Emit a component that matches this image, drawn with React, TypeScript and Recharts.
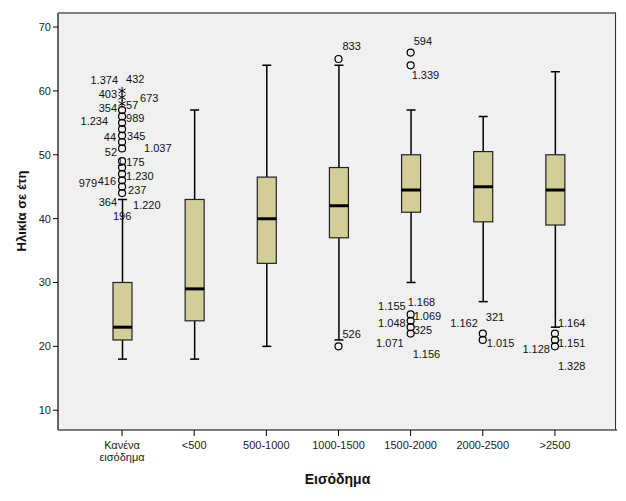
import React from 'react'
import { ComposedChart, Bar, Scatter, XAxis, YAxis, CartesianGrid } from 'recharts'

const categories = ['Κανένα εισόδημα', '<500', '500-1000', '1000-1500', '1500-2000', '2000-2500', '>2500']
const whiskerLow = [18, 18, 20, 21, 30, 27, 23]
const q1 = [21, 24, 33, 37, 41, 39.5, 39]
const median = [23, 29, 40, 42, 44.5, 45, 44.5]
const q3 = [30, 43, 46.5, 48, 50, 50.5, 50]
const whiskerHigh = [43, 57, 64, 64, 57, 56, 63]

const yTicks = [10, 20, 30, 40, 50, 60, 70]

// outliers as [category index, age]
const circleOutliers = [
  [0, 44], [0, 45], [0, 46], [0, 47], [0, 48], [0, 49], [0, 51], [0, 52], [0, 53], [0, 54], [0, 55], [0, 56], [0, 57],
  [3, 65], [3, 20],
  [4, 66], [4, 64], [4, 25], [4, 24], [4, 23], [4, 22],
  [5, 22], [5, 21],
  [6, 22], [6, 21], [6, 20],
]
const extremeOutliers = [[0, 58], [0, 59], [0, 60]]

// case numbers next to the outliers: [category index, age, case]
const caseLabels: [number, number, string][] = [
  [0, 60, '1.374'], [0, 60, '432'], [0, 59, '403'], [0, 58, '673'], [0, 58, '57'],
  [0, 57, '354'], [0, 56, '989'], [0, 55, '1.234'], [0, 53, '44'], [0, 53, '345'],
  [0, 51, '52'], [0, 51, '1.037'], [0, 49, '1.175'], [0, 47, '1.230'], [0, 46, '416'],
  [0, 46, '979'], [0, 44, '237'], [0, 44, '364'], [0, 44, '1.220'], [0, 44, '196'],
  [3, 65, '833'], [3, 20, '526'],
  [4, 66, '594'], [4, 64, '1.339'], [4, 25, '1.155'], [4, 25, '1.168'], [4, 24, '1.069'],
  [4, 23, '1.048'], [4, 22, '325'], [4, 22, '1.071'], [4, 22, '1.156'],
  [5, 22, '1.162'], [5, 22, '321'], [5, 21, '1.015'],
  [6, 22, '1.164'], [6, 21, '1.151'], [6, 20, '1.128'], [6, 20, '1.328'],
]
// where each case label sits relative to its point: [anchor, dx, dy]
const labelOffsets: [string, number, number][] = [
  ['end', -4, -11], ['start', 4, -12], ['end', -5, -3], ['start', 18, -6], ['start', 4, 1],
  ['end', -5, -2], ['start', 4, 2], ['end', -14, -2], ['end', -6, 1], ['start', 5, 0],
  ['end', -5, 4], ['start', 22, 0], ['start', -5, 1], ['start', 4, 2], ['end', -6, 1],
  ['end', -25, 3], ['start', 6, -3], ['end', -5, 9], ['start', 11, 12], ['middle', 0, 23],
  ['start', 4, -13], ['start', 4, -12],
  ['start', 3, -12], ['start', 1, 10], ['end', -5, -8], ['start', -3, -12], ['start', 3, -5],
  ['end', -5, -4], ['start', 3, -4], ['end', -7, 9], ['start', 2, 20],
  ['end', -5, -11], ['start', 3, -17], ['start', 4, 3],
  ['start', 3, -11], ['start', 3, 3], ['end', -5, 3], ['start', 3, 20],
]

const boxData = categories.map((cat, i) => ({
  cat,
  range: [whiskerLow[i], whiskerHigh[i]],
  low: whiskerLow[i],
  q1: q1[i],
  med: median[i],
  q3: q3[i],
  high: whiskerHigh[i],
}))
const circleData = circleOutliers.map(([c, v]) => ({ cat: categories[c], value: v }))
const starData = extremeOutliers.map(([c, v]) => ({ cat: categories[c], value: v }))
const labelData = caseLabels.map(([c, v, id], i) => ({ cat: categories[c], value: v, id, i }))

const FONT = 'Arial, "Liberation Sans", sans-serif'
const BOX_FILL = '#d3ce97'

function BoxShape(props: any) {
  const { x, y, width, height, payload } = props
  if (!payload) return null
  const top = Math.min(y, y + height)
  const h = Math.abs(height)
  const { low, high } = payload
  const py = (v: number) => top + ((high - v) / (high - low)) * h
  const cx = x + width / 2
  const cap = 4.5
  return (
    <g>
      <line x1={cx} x2={cx} y1={py(high)} y2={py(payload.q3)} stroke="#000" strokeWidth={1.5} />
      <line x1={cx} x2={cx} y1={py(payload.q1)} y2={py(low)} stroke="#000" strokeWidth={1.5} />
      <line x1={cx - cap} x2={cx + cap} y1={py(high)} y2={py(high)} stroke="#000" strokeWidth={1.5} />
      <line x1={cx - cap} x2={cx + cap} y1={py(low)} y2={py(low)} stroke="#000" strokeWidth={1.5} />
      <rect x={x} y={py(payload.q3)} width={width} height={py(payload.q1) - py(payload.q3)} fill={BOX_FILL} stroke="#222" strokeWidth={1.2} />
      <line x1={x} x2={x + width} y1={py(payload.med)} y2={py(payload.med)} stroke="#000" strokeWidth={3} />
    </g>
  )
}

function CircleShape(props: any) {
  const { cx, cy } = props
  return <circle cx={cx} cy={cy} r={3.5} fill="none" stroke="#000" strokeWidth={1.2} />
}

function StarShape(props: any) {
  const { cx, cy } = props
  const r = 4
  const a = r * Math.cos(Math.PI / 6)
  const b = r * Math.sin(Math.PI / 6)
  return (
    <g stroke="#000" strokeWidth={1}>
      <line x1={cx} x2={cx} y1={cy - r} y2={cy + r} />
      <line x1={cx - a} x2={cx + a} y1={cy - b} y2={cy + b} />
      <line x1={cx - a} x2={cx + a} y1={cy + b} y2={cy - b} />
    </g>
  )
}

function CaseLabel(props: any) {
  const { cx, cy, payload } = props
  if (!payload) return null
  const [anchor, dx, dy] = labelOffsets[payload.i]
  return (
    <text x={cx + dx} y={cy + dy} textAnchor={anchor} dominantBaseline="central" fontSize={11} fontFamily={FONT} fill="#111">
      {payload.id}
    </text>
  )
}

function CategoryTick(props: any) {
  const { x, y, payload } = props
  const lines = String(payload.value).split(' ')
  return (
    <text x={x} y={y} textAnchor="middle" fontSize={11} fontFamily={FONT} fill="#222">
      {lines.map((l, i) => (
        <tspan key={i} x={x} dy={i === 0 ? 11 : 11.5}>{l}</tspan>
      ))}
    </text>
  )
}

export default function App() {
  return (
    <div style={{ position: 'absolute', left: 0, top: 0, width: 626, height: 501, background: '#fff' }}>
      <ComposedChart width={626} height={501} data={boxData} margin={{ top: 13, right: 9, bottom: 0, left: 0 }}>
        <CartesianGrid fill="#f0f0f0" horizontal={false} vertical={false} />
        <XAxis
          dataKey="cat"
          type="category"
          allowDuplicatedCategory={false}
          interval={0}
          height={71}
          padding={{ left: 28, right: 26 }}
          axisLine={{ stroke: '#000', strokeWidth: 1.2 }}
          tickLine={{ stroke: '#000' }}
          tickSize={6}
          tickMargin={2}
          tick={<CategoryTick />}
          label={{
            content: ({ viewBox }: any) => (
              <text x={viewBox.x + viewBox.width / 2} y={viewBox.y + 54} textAnchor="middle" fontSize={14} fontWeight="bold" fontFamily={FONT} fill="#111">
                Εισόδημα
              </text>
            ),
          }}
        />
        <YAxis
          type="number"
          width={58}
          domain={[6.9, 72.2]}
          allowDataOverflow
          ticks={yTicks}
          interval={0}
          axisLine={{ stroke: '#000', strokeWidth: 1.2 }}
          tickLine={{ stroke: '#000' }}
          tickSize={5}
          tickMargin={2}
          tick={{ fontSize: 11, fontFamily: FONT, fill: '#222' }}
          label={{
            content: ({ viewBox }: any) => {
              const lx = viewBox.x + 21
              const ly = viewBox.y + 198
              return (
                <text x={lx} y={ly} transform={`rotate(-90, ${lx}, ${ly})`} textAnchor="middle" dominantBaseline="central" fontSize={13} fontWeight="bold" fontFamily={FONT} fill="#111">
                  Ηλικία σε έτη
                </text>
              )
            },
          }}
        />
        <Bar dataKey="range" barSize={19} shape={<BoxShape />} isAnimationActive={false} />
        <Scatter data={circleData} dataKey="value" shape={<CircleShape />} isAnimationActive={false} />
        <Scatter data={starData} dataKey="value" shape={<StarShape />} isAnimationActive={false} />
        <Scatter data={labelData} dataKey="value" shape={<CaseLabel />} isAnimationActive={false} />
      </ComposedChart>
      <div
        style={{
          position: 'absolute',
          left: 58,
          top: 12,
          width: 558,
          height: 418,
          borderTop: '2px solid #7f7f7f',
          borderRight: '1px solid #333',
          boxSizing: 'border-box',
          pointerEvents: 'none',
        }}
      />
    </div>
  )
}
